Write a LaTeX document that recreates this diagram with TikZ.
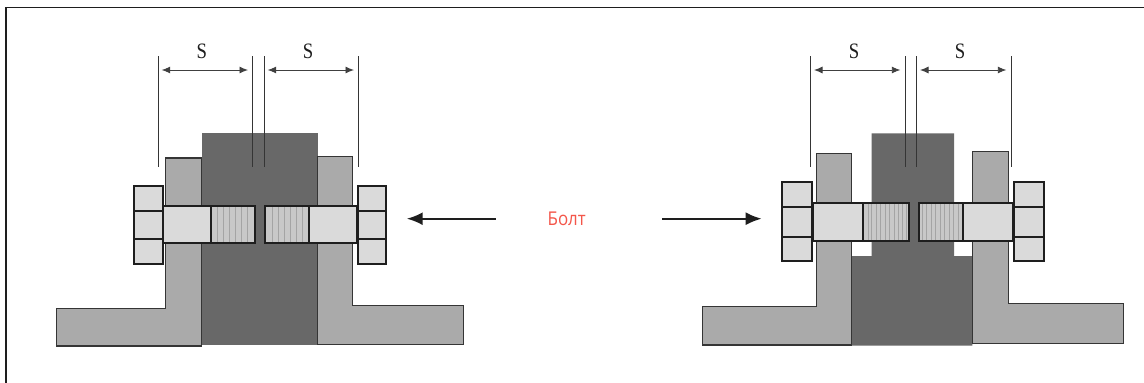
\documentclass[tikz,border=0pt]{standalone}
\usepackage{fontspec}
\setmainfont{Liberation Serif}
\newfontfamily\labelfont{Open Sans}
\usetikzlibrary{arrows.meta}
\definecolor{flange}{HTML}{AAAAAA}
\definecolor{core}{HTML}{686868}
\definecolor{headc}{HTML}{DADADA}
\definecolor{threadc}{HTML}{C8C8C8}
\definecolor{stripec}{HTML}{A4A4A4}
\definecolor{edgec}{HTML}{1E1E1E}
\definecolor{redlabel}{HTML}{F4564A}
\tikzset{
  flangepart/.style={fill=flange,draw=edgec!90!white,line width=1.5pt,line join=miter},
  corepart/.style={fill=core,draw=none},
  nutpart/.style={fill=headc,draw=edgec,line width=1.7pt},
  boltpart/.style={fill=headc,draw=edgec,line width=2pt},
  threadpart/.style={fill=threadc,draw=edgec,line width=2pt},
  stripe/.style={stripec,line width=.9pt},
  dimline/.style={draw=edgec!90!white,line width=1pt},
  dimarrow/.style={draw=edgec!85!white,line width=.9pt,{Latex[length=8.5pt,width=7pt]}-{Latex[length=8.5pt,width=7pt]}},
  bigarrow/.style={draw=edgec,line width=2.2pt,-{Latex[length=16pt,width=13pt]}},
  dimtext/.style={font=\fontsize{22}{22}\selectfont,text=edgec,inner sep=0pt,xscale=.85},
  redtext/.style={font=\labelfont\fontsize{19}{19}\selectfont,text=redlabel,inner sep=0pt,xscale=.89},
  frameline/.style={draw=edgec,line width=1.4pt}
}
\begin{document}
\begin{tikzpicture}[x=1pt,y=-1pt]
\useasboundingbox (0,0) rectangle (1144,383);
\fill[white] (0,0) rectangle (1144,383);
\draw[frameline] (6,383) -- (6,7.5) -- (1144,7.5);

% left assembly
\fill[corepart] (202.3,133.3) rectangle (317.7,345);
\draw[flangepart] (165.7,158) -- (201.3,158) -- (201.3,346) -- (56.7,346) -- (56.7,308.3) -- (165.7,308.3) -- cycle;
\draw[flangepart] (317.3,156.7) -- (352.3,156.7) -- (352.3,305.7) -- (463.3,305.7) -- (463.3,344.7) -- (317.3,344.7) -- cycle;
\foreach \xa/\xb in {134.3/162.7,357.7/386}{
  \draw[nutpart] (\xa,185.7) rectangle (\xb,263.7);
  \draw[nutpart] (\xa,210.7) -- (\xb,210.7) (\xa,239.3) -- (\xb,239.3);
}
\draw[threadpart] (211.3,205.7) rectangle (255,242.7);
\foreach \x in {217,223,229,235,241,247}{\draw[stripe] (\x,206.7) -- (\x,241.7);}
\draw[threadpart] (265.3,205.7) rectangle (309.3,242.7);
\foreach \x in {272,278,284,290,296,302}{\draw[stripe] (\x,206.7) -- (\x,241.7);}
\draw[threadpart,fill=none] (211.3,205.7) rectangle (255,242.7) (265.3,205.7) rectangle (309.3,242.7);
\draw[boltpart] (163.3,205.7) rectangle (211.3,242.7);
\draw[boltpart] (309.3,205.7) rectangle (357.3,242.7);

\coordinate (la) at (158,56); \coordinate (lb) at (252.7,56);
\coordinate (lc) at (264,56); \coordinate (ld) at (358.7,56);
\foreach \n in {la,lb,lc,ld}{\draw[dimline] (\n) -- (\n |- 0,167);}
\draw[dimarrow] (161.7,70) -- (248,70);
\draw[dimarrow] (267.7,70) -- (354,70);
\node[dimtext] (ls1) at (201.7,51) {S};
\node[dimtext] (ls2) at (308,51) {S};

% right assembly
\fill[corepart] (871.7,133.3) -- (954,133.3) -- (954,256) -- (972.3,256) -- (972.3,345.6) -- (851.7,345.6) -- (851.7,256) -- (871.7,256) -- cycle;
\draw[flangepart] (816.3,153.3) -- (851.7,153.3) -- (851.7,345) -- (702.7,345) -- (702.7,306.7) -- (816.3,306.7) -- cycle;
\draw[flangepart] (972.3,151.7) -- (1008.3,151.7) -- (1008.3,303.3) -- (1123.3,303.3) -- (1123.3,343.7) -- (972.3,343.7) -- cycle;
\foreach \xa/\xb in {782.3/812.3,1014/1043.7}{
  \draw[nutpart] (\xa,182.3) rectangle (\xb,260.7);
  \draw[nutpart] (\xa,206.7) -- (\xb,206.7) (\xa,236.7) -- (\xb,236.7);
}
\draw[threadpart] (863,203) rectangle (909,241);
\foreach \x in {868,871,876,880,885,889,894,898,902,906}{\draw[stripe] (\x,204) -- (\x,240);}
\draw[threadpart] (918.7,203) rectangle (963.3,241);
\foreach \x in {922,926,931,935,940,944,949,953,958}{\draw[stripe] (\x,204) -- (\x,240);}
\draw[threadpart,fill=none] (863,203) rectangle (909,241) (918.7,203) rectangle (963.3,241);
\draw[boltpart] (812.7,203) rectangle (863,241);
\draw[boltpart] (963.3,203) rectangle (1013.3,241);
\draw[boltpart] (863,203) -- (863,241) (963.3,203) -- (963.3,241);

\coordinate (ra) at (810.3,56); \coordinate (rb) at (905,56);
\coordinate (rc) at (916.3,56); \coordinate (rd) at (1011,56);
\foreach \n in {ra,rb,rc,rd}{\draw[dimline] (\n) -- (\n |- 0,167);}
\draw[dimarrow] (814,70) -- (900.3,70);
\draw[dimarrow] (920,70) -- (1006.3,70);
\node[dimtext] (rs1) at (854,51) {S};
\node[dimtext] (rs2) at (960,51) {S};

% label
\node[redtext] (bolt) at (566.7,218.5) {Болт};
\coordinate (tipl) at (406.7,218.7); \coordinate (taill) at (495.7,218.7);
\coordinate (tipr) at (761.7,218.7); \coordinate (tailr) at (662,218.7);
\draw[bigarrow] (taill) -- (tipl);
\draw[bigarrow] (tailr) -- (tipr);
\end{tikzpicture}
\end{document}
